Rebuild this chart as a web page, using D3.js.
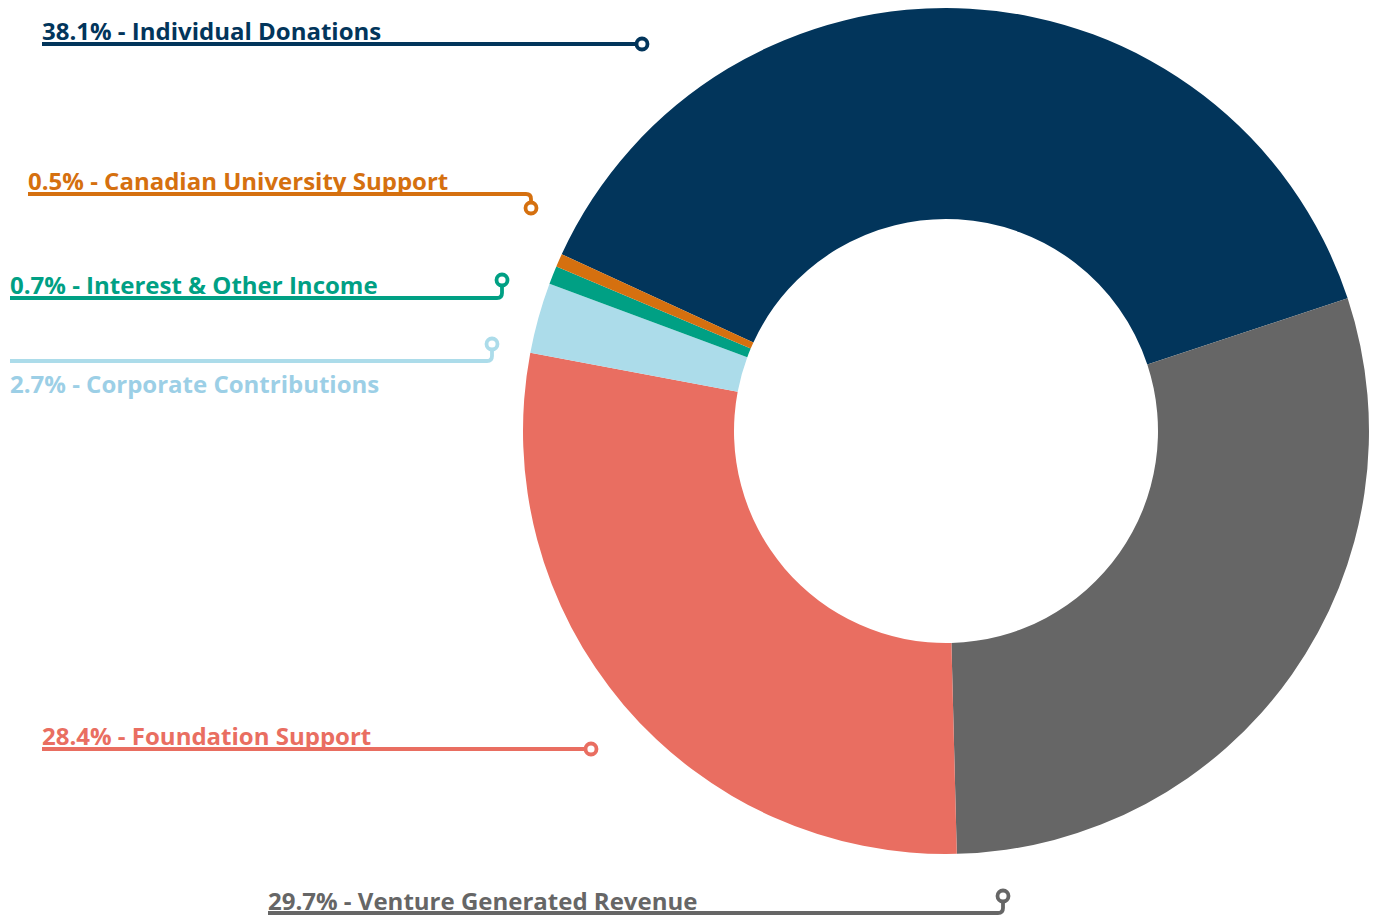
<!DOCTYPE html>
<html>
<head>
<meta charset="utf-8">
<script src="https://cdn.jsdelivr.net/npm/d3@7"></script>
<style>
  html, body { margin: 0; padding: 0; background: #fff; }
  svg { display: block; }
</style>
</head>
<body>
<svg id="chart"></svg>
<script>
// data
const categories = [
  "Individual Donations",
  "Venture Generated Revenue",
  "Foundation Support",
  "Corporate Contributions",
  "Interest & Other Income",
  "Canadian University Support"
];
const shares = [38.1, 29.7, 28.4, 2.7, 0.7, 0.5];
const colors = ["#02355b", "#666666", "#e96e61", "#acdcea", "#00a084", "#d5700f"];
const textColors = ["#02355b", "#666666", "#e96e61", "#9ccfe6", "#00a084", "#d5700f"];

const width = 1374, height = 917;
const cx = 946, cy = 431;
const outerR = 423, innerR = 212;

// label placement: line y, line start x, marker position, text baseline
const labelLayout = [
  { x0: 42, lineY: 44,  mx: 642,  my: 44,  textY: 40 },
  { x0: 268, lineY: 913, mx: 1003, my: 896, textY: 910 },
  { x0: 42, lineY: 749, mx: 591,  my: 749, textY: 745 },
  { x0: 10, lineY: 361, mx: 492,  my: 344, textY: 393 },
  { x0: 10, lineY: 298, mx: 502,  my: 280, textY: 294 },
  { x0: 28, lineY: 194, mx: 531,  my: 208, textY: 190 }
];

const svg = d3.select("#chart").attr("width", width).attr("height", height);

const startDeg = -65.3;
const pie = d3.pie()
  .sort(null)
  .value(d => d)
  .startAngle(startDeg * Math.PI / 180)
  .endAngle(startDeg * Math.PI / 180 + 2 * Math.PI);

const arc = d3.arc().innerRadius(innerR).outerRadius(outerR);

svg.append("g")
  .attr("transform", `translate(${cx}, ${cy})`)
  .selectAll("path")
  .data(pie(shares))
  .join("path")
  .attr("fill", (d, i) => colors[i])
  .attr("d", arc);

// leader lines
const rc = 5, mr = 5.5;
function leader(l) {
  const p = d3.path();
  p.moveTo(l.x0, l.lineY);
  if (Math.abs(l.my - l.lineY) < 1) {
    p.lineTo(l.mx - mr, l.lineY);
  } else {
    const dir = l.my > l.lineY ? 1 : -1;
    p.lineTo(l.mx - rc, l.lineY);
    p.quadraticCurveTo(l.mx, l.lineY, l.mx, l.lineY + dir * rc);
    p.lineTo(l.mx, l.my - dir * mr);
  }
  return p.toString();
}

const labels = svg.append("g")
  .selectAll("g")
  .data(categories)
  .join("g");

labels.append("path")
  .attr("d", (d, i) => leader(labelLayout[i]))
  .attr("fill", "none")
  .attr("stroke", (d, i) => colors[i])
  .attr("stroke-width", 3.8);

labels.append("circle")
  .attr("cx", (d, i) => labelLayout[i].mx)
  .attr("cy", (d, i) => labelLayout[i].my)
  .attr("r", mr)
  .attr("fill", "#fff")
  .attr("stroke", (d, i) => colors[i])
  .attr("stroke-width", 3.8);

labels.append("text")
  .attr("x", (d, i) => labelLayout[i].x0)
  .attr("y", (d, i) => labelLayout[i].textY)
  .attr("fill", (d, i) => textColors[i])
  .attr("font-family", "'Open Sans', sans-serif")
  .attr("font-weight", 700)
  .attr("font-size", "24px")
  .text((d, i) => `${shares[i]}% - ${d}`);
</script>
</body>
</html>
